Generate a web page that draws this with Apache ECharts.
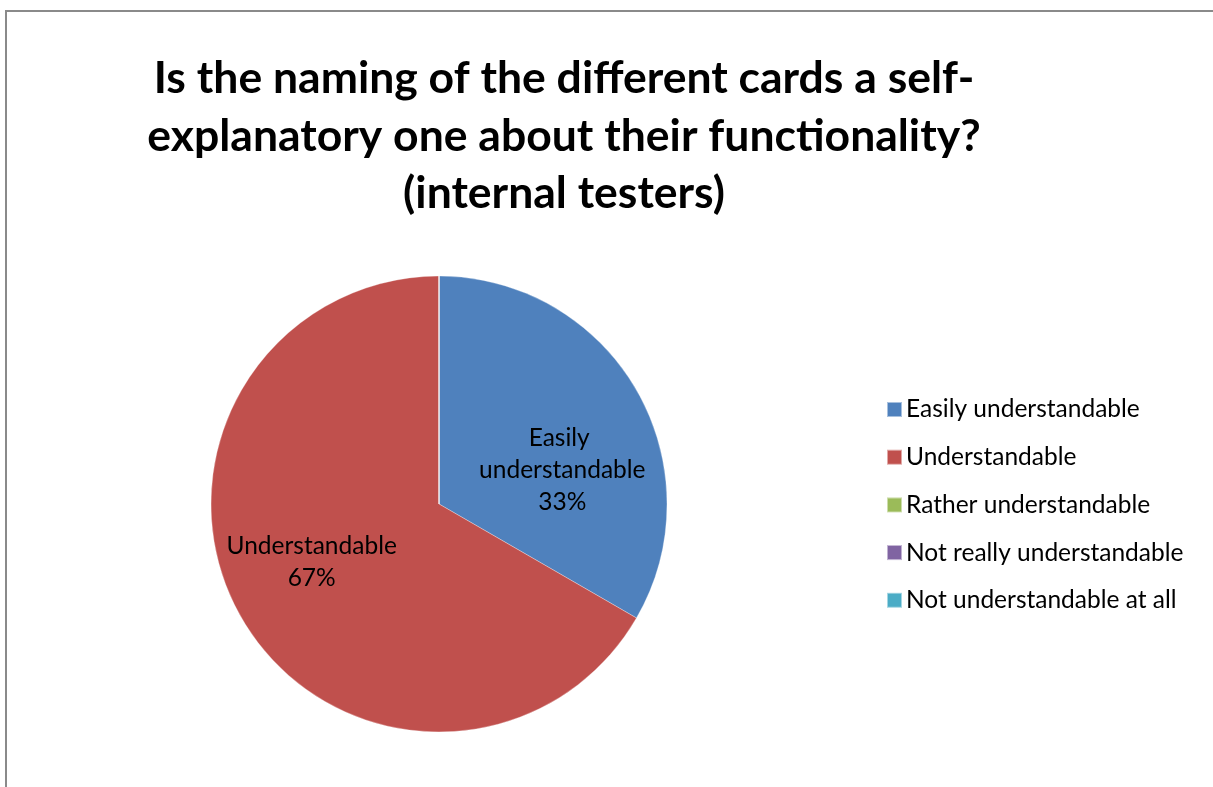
<!DOCTYPE html>
<html>
<head>
<meta charset="utf-8">
<script src="https://cdn.jsdelivr.net/npm/echarts@6/dist/echarts.min.js"></script>
<style>
  html, body { margin: 0; padding: 0; background: #fff; }
  #chart { width: 1213px; height: 787px; }
</style>
</head>
<body>
<div id="chart"></div>
<script>
// Survey answers (internal testers)
const categories = [
  'Easily understandable',
  'Understandable',
  'Rather understandable',
  'Not really understandable',
  'Not understandable at all'
];
const responses = [1, 2, 0, 0, 0];
const colors = ['#4F81BD', '#C0504D', '#9BBB59', '#8064A2', '#4BACC6'];
const titleText = 'Is the naming of the different cards a self-\nexplanatory one about their functionality?\n(internal testers)';

// Per-slice label nudges so the text sits like the office-style layout
const labelOffsets = [[22, 25], [-26, 0], [0, 0], [0, 0], [0, 0]];

const FONT = 'Lato';

const chart = echarts.init(document.getElementById('chart'), null, { renderer: 'canvas' });

chart.setOption({
  animation: false,
  color: colors,
  graphic: [{
    type: 'rect',
    shape: { x: 6, y: 11, width: 1400, height: 1000 },
    style: { fill: 'none', stroke: '#8a8a8a', lineWidth: 2 },
    silent: true,
    z: 0
  }],
  title: {
    text: titleText,
    left: 564,
    top: 50,
    textAlign: 'center',
    padding: 0,
    textStyle: {
      fontFamily: FONT,
      fontWeight: 'bold',
      fontSize: 44.5,
      lineHeight: 57.5,
      color: '#000'
    }
  },
  legend: {
    orient: 'vertical',
    left: 886,
    top: 397,
    padding: 0,
    itemWidth: 15,
    itemHeight: 15,
    itemGap: 22.7,
    icon: 'rect',
    selectedMode: false,
    data: categories,
    textStyle: {
      fontFamily: FONT,
      fontSize: 24.5,
      lineHeight: 20,
      color: '#000',
      padding: [0, 0, 0, -1]
    }
  },
  series: [{
    type: 'pie',
    center: [439, 504],
    radius: 228,
    startAngle: 90,
    clockwise: true,
    percentPrecision: 0,
    avoidLabelOverlap: false,
    itemStyle: { borderColor: 'rgba(255,255,255,0.5)', borderWidth: 0.6 },
    label: {
      show: true,
      position: 'inside',
      formatter: '{b}\n{d}%',
      fontFamily: FONT,
      fontSize: 24.5,
      lineHeight: 32,
      color: '#000',
      width: 200,
      overflow: 'break'
    },
    labelLine: { show: false },
    emphasis: { disabled: true },
    data: categories.map((name, i) => ({
      name: name,
      value: responses[i],
      label: responses[i] > 0 ? { offset: labelOffsets[i] } : { show: false }
    }))
  }]
});
</script>
</body>
</html>
